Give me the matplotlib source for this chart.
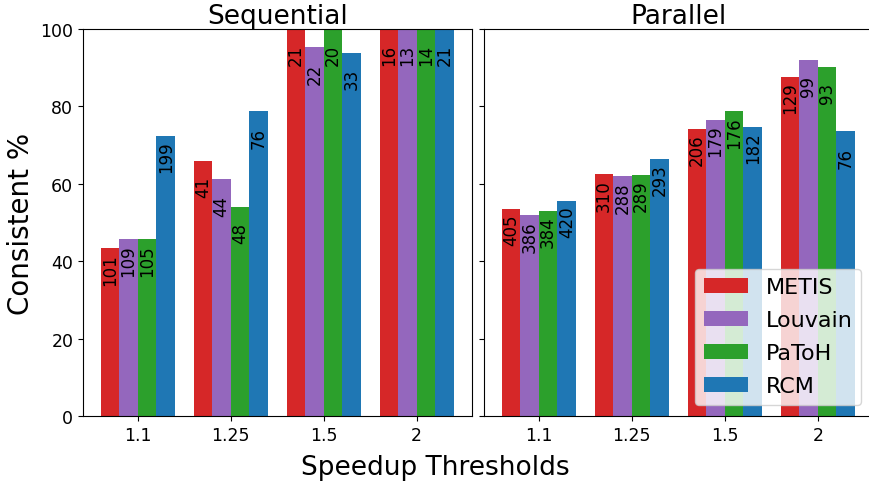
import numpy as np
import matplotlib
matplotlib.use("Agg")
import matplotlib.pyplot as plt

# --- Data ---
thresholds = ["1.1", "1.25", "1.5", "2"]
methods = ["METIS", "Louvain", "PaToH", "RCM"]
colors = ["#d62728", "#9467bd", "#2ca02c", "#1f77b4"]

seq_metis = [43.4, 65.9, 100.0, 100.0]
seq_louvain = [45.7, 61.2, 95.3, 100.0]
seq_patoh = [45.7, 54.0, 100.0, 100.0]
seq_rcm = [72.4, 78.8, 93.8, 100.0]

seq_counts_metis = [101, 41, 21, 16]
seq_counts_louvain = [109, 44, 22, 13]
seq_counts_patoh = [105, 48, 20, 14]
seq_counts_rcm = [199, 76, 33, 21]

par_metis = [53.5, 62.5, 74.2, 87.6]
par_louvain = [51.9, 62.0, 76.5, 92.0]
par_patoh = [53.0, 62.3, 78.8, 90.2]
par_rcm = [55.6, 66.4, 74.7, 73.6]

par_counts_metis = [405, 310, 206, 129]
par_counts_louvain = [386, 288, 179, 99]
par_counts_patoh = [384, 289, 176, 93]
par_counts_rcm = [420, 293, 182, 76]

panels = [
    ("Sequential",
     [seq_metis, seq_louvain, seq_patoh, seq_rcm],
     [seq_counts_metis, seq_counts_louvain, seq_counts_patoh, seq_counts_rcm]),
    ("Parallel",
     [par_metis, par_louvain, par_patoh, par_rcm],
     [par_counts_metis, par_counts_louvain, par_counts_patoh, par_counts_rcm]),
]

# --- Plot ---
fig, axes = plt.subplots(1, 2, figsize=(8.7, 4.85), dpi=100, sharey=True)
x = np.arange(len(thresholds))
width = 0.2

for ax, (title, values, counts) in zip(axes, panels):
    for i, (name, vals, cnts) in enumerate(zip(methods, values, counts)):
        bars = ax.bar(x + (i - 1.5) * width, vals, width, color=colors[i], label=name)
        # count labels sit inside the bar, ending a bit below its top
        for b, c in zip(bars, cnts):
            ax.text(b.get_x() + b.get_width() / 2, b.get_height() - 9.4, str(c),
                    ha="center", va="bottom", rotation=90, fontsize=12)
    ax.set_title(title, fontsize=19, pad=2)
    ax.set_xticks(x)
    ax.set_xticklabels(thresholds, fontsize=12.5)
    ax.tick_params(axis="y", labelsize=12.5)
    ax.set_ylim(0, 100)

axes[0].set_ylabel("Consistent %", fontsize=20)
axes[1].legend(loc="lower right", fontsize=16, labelspacing=0.58)
fig.supxlabel("Speedup Thresholds", fontsize=19, y=0.008)

fig.subplots_adjust(left=0.0954, right=1.003, top=0.938, bottom=0.14, wspace=0.032)
fig.savefig("out.png")
